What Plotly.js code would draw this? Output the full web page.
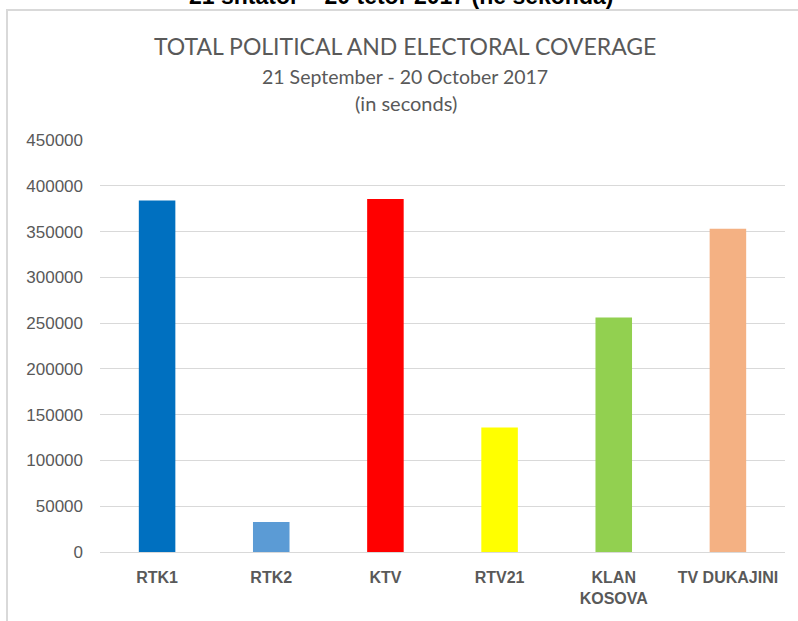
<!DOCTYPE html>
<html>
<head>
<meta charset="utf-8">
<script src="https://cdn.plot.ly/plotly-3.0.1.min.js"></script>
<style>
html,body{margin:0;padding:0;background:#fff;}
#chart{width:798px;height:621px;}
</style>
</head>
<body>
<div id="chart"></div>
<script>
var categories = ["RTK1", "RTK2", "KTV", "RTV21", "KLAN<br>KOSOVA", "TV DUKAJINI"];
var seconds = [384000, 32800, 385500, 136000, 256000, 353000];
var barColors = ["#0070C0", "#5B9BD5", "#FF0000", "#FFFF00", "#92D050", "#F4B183"];
var yTickValues = [0, 50000, 100000, 150000, 200000, 250000, 300000, 350000, 400000, 450000];

var trace = {
  type: "bar",
  x: categories,
  y: seconds,
  marker: {color: barColors, line: {width: 0}},
  hoverinfo: "x+y"
};

var gray = "#595959";
var layout = {
  width: 798,
  height: 621,
  margin: {l: 100, r: 13, t: 140, b: 69},
  paper_bgcolor: "#ffffff",
  plot_bgcolor: "#ffffff",
  showlegend: false,
  bargap: 0.68,
  xaxis: {
    type: "category",
    showgrid: false,
    showline: false,
    zeroline: false,
    ticks: "",
    ticklabelstandoff: 14,
    tickfont: {family: "Liberation Sans", size: 16, color: gray, weight: "bold"}
  },
  yaxis: {
    range: [0, 450000],
    tickmode: "array",
    tickvals: yTickValues,
    ticktext: yTickValues.map(String),
    showgrid: true,
    gridcolor: "#D9D9D9",
    gridwidth: 1,
    zeroline: true,
    zerolinecolor: "#D9D9D9",
    zerolinewidth: 1,
    showline: false,
    ticks: "",
    ticklabelstandoff: 16,
    tickfont: {family: "Liberation Sans", size: 17, color: gray}
  },
  annotations: [
    {text: "21 shtator – 20 tetor 2017 (në sekonda)", xref: "paper", yref: "paper",
     x: 0.44, y: 1.313, xanchor: "center", yanchor: "bottom", showarrow: false,
     font: {family: "Liberation Sans", size: 23, color: "#000000", weight: "bold"}},
    {text: "TOTAL POLITICAL AND ELECTORAL COVERAGE", xref: "paper", yref: "paper",
     x: (405 - 100) / 685, y: (552 - 46) / 412, xanchor: "center", yanchor: "middle", showarrow: false,
     font: {family: "Lato", size: 23, color: gray}},
    {text: "21 September - 20 October 2017", xref: "paper", yref: "paper",
     x: (405 - 100) / 685, y: (552 - 77) / 412, xanchor: "center", yanchor: "middle", showarrow: false,
     font: {family: "Lato", size: 19.5, color: gray}},
    {text: "(in seconds)", xref: "paper", yref: "paper",
     x: (406 - 100) / 685, y: (552 - 103) / 412, xanchor: "center", yanchor: "middle", showarrow: false,
     font: {family: "Lato", size: 20, color: gray}}
  ],
  shapes: [
    {type: "rect", xref: "paper", yref: "paper",
     x0: (7 - 100) / 685, x1: (805 - 100) / 685, y0: (552 - 630) / 412, y1: (552 - 10) / 412,
     line: {color: "#D9D9D9", width: 2}, fillcolor: "rgba(0,0,0,0)", layer: "below"}
  ]
};

Plotly.newPlot("chart", [trace], layout, {displayModeBar: false, staticPlot: true});
</script>
</body>
</html>
